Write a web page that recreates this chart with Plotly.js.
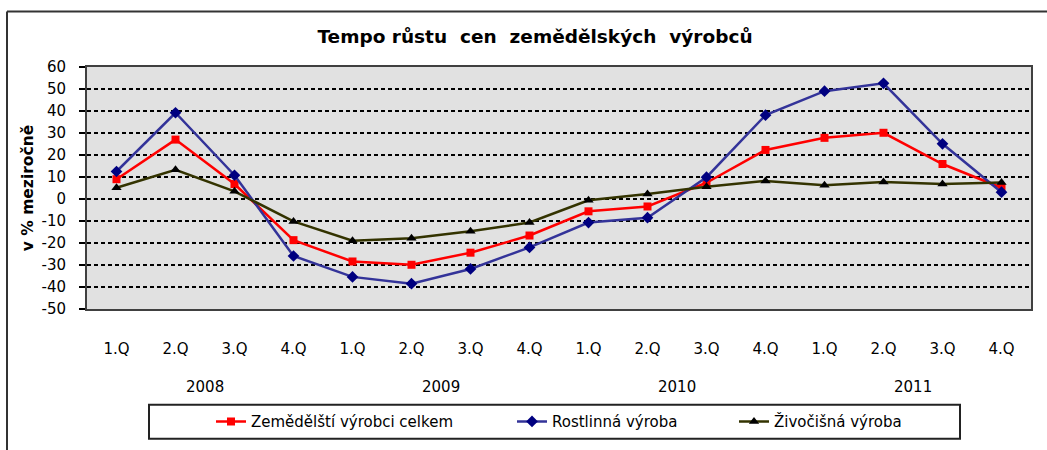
<!DOCTYPE html>
<html>
<head>
<meta charset="utf-8">
<script src="https://cdn.plot.ly/plotly-3.0.1.min.js"></script>
<style>html,body{margin:0;padding:0;background:#fff;}#chart{width:1047px;height:450px;}</style>
</head>
<body>
<div id="chart"></div>
<script>
var quarters = ["1.Q","2.Q","3.Q","4.Q","1.Q","2.Q","3.Q","4.Q","1.Q","2.Q","3.Q","4.Q","1.Q","2.Q","3.Q","4.Q"];
var years = ["2008","2009","2010","2011"];
var yTickVals = [-50, -40, -30, -20, -10, 0, 10, 20, 30, 40, 50, 60];
var yTickLabels = ["-50","-40","-30","-20","-10","0","10","20","30","40","50","60"];
var seriesNames = ["Zemědělští výrobci celkem","Rostlinná výroba","Živočišná výroba"];
var celkem = [9.0, 27.0, 6.8, -18.7, -28.4, -29.9, -24.4, -16.6, -5.6, -3.4, 7.4, 22.3, 27.8, 30.1, 15.9, 5.1];
var rostlinna = [12.5, 39.2, 10.8, -25.9, -35.4, -38.5, -31.8, -22.0, -10.7, -8.5, 9.9, 38.1, 49.0, 52.6, 25.1, 3.1];
var zivocisna = [5.1, 13.3, 3.5, -10.2, -19.0, -17.8, -14.7, -10.7, -0.6, 2.3, 5.6, 8.2, 6.3, 7.7, 6.8, 7.5];

var idx = quarters.map(function(_, i){ return i; });
var FONT = "DejaVu Sans, Liberation Sans, Arial, sans-serif";

var traces = [
  {x: idx, y: celkem, name: seriesNames[0], type: "scatter", mode: "lines+markers", legend: "legend",
   line: {color: "#ff0000", width: 2.5}, marker: {symbol: "square", size: 8, color: "#ff0000"}},
  {x: idx, y: rostlinna, name: seriesNames[1], type: "scatter", mode: "lines+markers", legend: "legend2",
   line: {color: "#333399", width: 2.5}, marker: {symbol: "diamond", size: 9, color: "#000080"}},
  {x: idx, y: zivocisna, name: seriesNames[2], type: "scatter", mode: "lines+markers", legend: "legend3",
   line: {color: "#333300", width: 2.5}, marker: {symbol: "triangle-up", size: 9, color: "#000000"}}
];

var L = 87, R = 1031, T = 67, B = 315;
function px(x){ return (x - L) / (R - L); }
function py(y){ return (B - y) / (B - T); }

var annotations = years.map(function(yr, k){
  return {x: 4*k + 1.5, xref: "x", y: py(395), yref: "paper", text: yr, showarrow: false,
          font: {family: FONT, size: 15, color: "#000"}, xanchor: "center", yanchor: "middle"};
});

var shapes = [
  {type: "line", xref: "paper", yref: "paper", x0: px(7), x1: px(1060), y0: py(10), y1: py(10),
   line: {color: "#333", width: 2}},
  {type: "line", xref: "paper", yref: "paper", x0: px(7), x1: px(7), y0: py(10), y1: py(470),
   line: {color: "#333", width: 2}},
  {type: "rect", xref: "paper", yref: "paper", x0: px(149), x1: px(960), y0: py(413), y1: py(448),
   line: {color: "#222", width: 2}, fillcolor: "rgba(0,0,0,0)"}
];

function leg(xpx){
  return {orientation: "h", x: px(xpx), xanchor: "left", y: py(430.5), yanchor: "middle",
          font: {family: FONT, size: 15, color: "#000"}, bgcolor: "rgba(0,0,0,0)", borderwidth: 0};
}

var layout = {
  width: 1047, height: 450,
  margin: {l: L, r: 1047 - R, t: T, b: 450 - B},
  paper_bgcolor: "#ffffff",
  plot_bgcolor: "#e1e1e1",
  showlegend: true,
  title: {text: "Tempo růstu&nbsp; cen&nbsp; zemědělských&nbsp; výrobců", x: px(535), xref: "paper", xanchor: "center",
          y: 1 - 37/450, yref: "container", yanchor: "middle",
          font: {family: FONT, size: 18.5, color: "#000", weight: "bold"}},
  xaxis: {range: [-0.5, 15.5], tickmode: "array", tickvals: idx, ticktext: quarters,
          showgrid: false, zeroline: false, ticks: "", showline: true, mirror: true,
          linecolor: "#404040", linewidth: 2, ticklabelstandoff: 25,
          tickfont: {family: FONT, size: 15, color: "#000"}, fixedrange: true},
  yaxis: {range: [-50, 60], tickmode: "array", tickvals: yTickVals, ticktext: yTickLabels,
          showgrid: true, gridcolor: "#000000",
          griddash: "4px,3px", gridwidth: 1.5, zeroline: false, showline: true, mirror: true,
          linecolor: "#404040", linewidth: 2, ticks: "outside", ticklen: 6, tickcolor: "#000",
          tickwidth: 1.5, ticklabelstandoff: 10,
          tickfont: {family: FONT, size: 15, color: "#000"},
          title: {text: "v % meziročně", standoff: 4, font: {family: FONT, size: 15.5, color: "#000", weight: "bold"}},
          fixedrange: true},
  legend: leg(211),
  legend2: leg(512),
  legend3: leg(734),
  annotations: annotations,
  shapes: shapes
};

Plotly.newPlot("chart", traces, layout, {displayModeBar: false, staticPlot: true});
</script>
</body>
</html>
